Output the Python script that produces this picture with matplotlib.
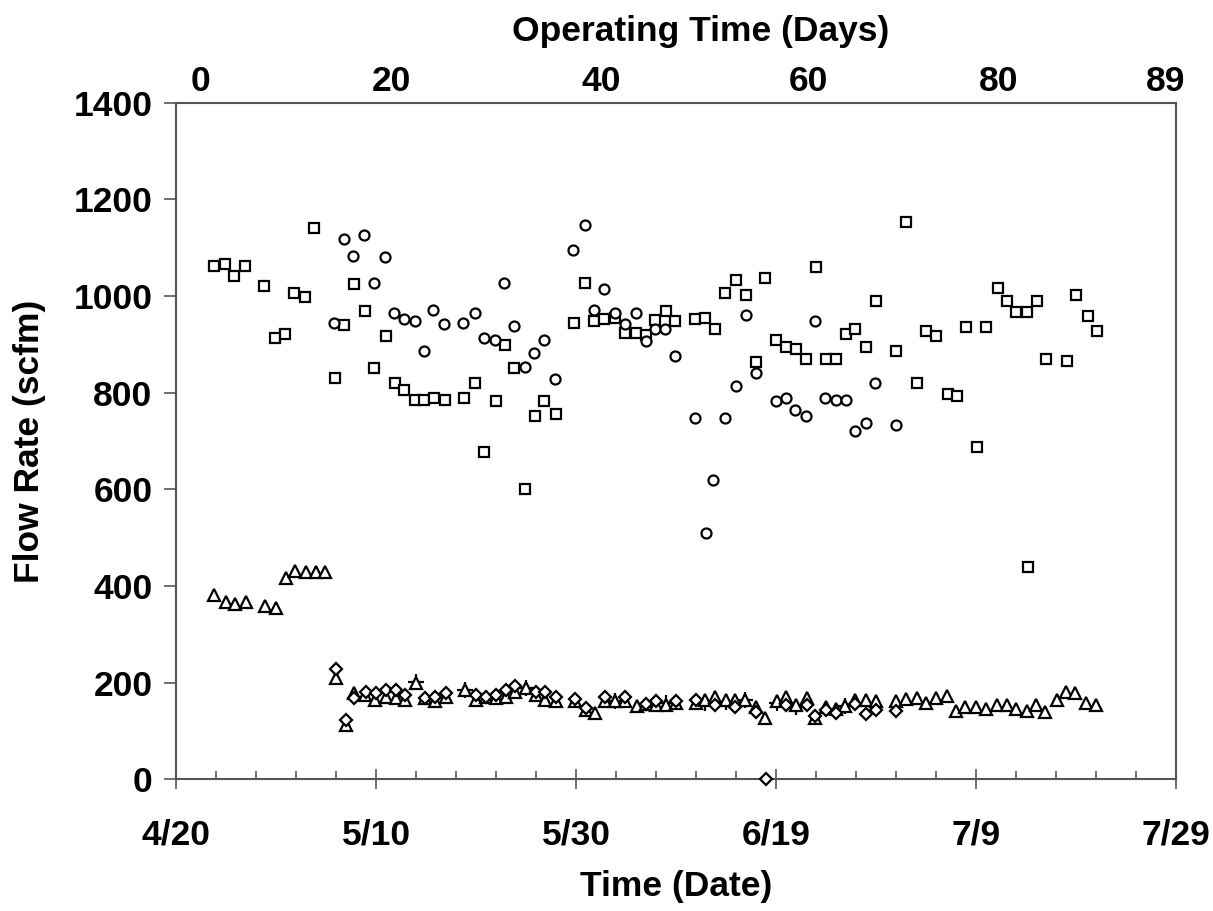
import matplotlib.pyplot as plt
from matplotlib.ticker import MultipleLocator

# x values are days after 4/20, y values are flow rate in scfm
sq_day = [3.8, 4.9, 5.8, 6.9, 8.8, 9.9, 10.9, 11.8, 12.9, 13.8,
          15.9, 16.8, 17.8, 18.9, 19.8, 21.0, 21.9, 22.8, 23.9, 24.8,
          25.8, 26.9, 28.8, 29.9, 30.8, 32.0, 32.9, 33.8, 34.9, 35.9,
          36.8, 38.0, 39.8, 40.9, 41.8, 42.8, 43.9, 44.9, 46.0, 47.0,
          47.9, 49.0, 49.9, 51.9, 52.9, 53.9, 54.9, 56.0, 57.0, 58.0,
          58.9, 60.0, 61.0, 62.0, 63.0, 64.0, 65.0, 66.0, 67.0, 67.9,
          69.0, 70.0, 72.0, 73.0, 74.1, 75.0, 76.0, 77.2, 78.1, 79.0,
          80.1, 81.0, 82.2, 83.1, 84.0, 85.1, 86.1, 87.0, 89.1, 90.0,
          91.2, 92.1, 85.2]
sq_flow = [1062, 1067, 1041, 1062, 1021, 913, 921, 1006, 998, 1141,
           830, 940, 1025, 969, 852, 917, 821, 806, 784, 784,
           789, 784, 789, 821, 678, 782, 898, 852, 601, 751,
           782, 755, 944, 1026, 948, 952, 955, 923, 923, 919,
           950, 970, 948, 952, 955, 932, 1006, 1033, 1002, 863,
           1037, 909, 894, 890, 870, 1060, 870, 870, 921, 932,
           894, 990, 886, 1153, 821, 928, 917, 797, 793, 936,
           688, 936, 1016, 990, 967, 967, 990, 870, 866, 1002,
           959, 928, 440]

ci_day = [15.8, 16.8, 17.7, 18.8, 19.8, 20.9, 21.8, 22.8, 23.9, 24.8,
          25.7, 26.8, 28.7, 29.9, 30.8, 31.9, 32.8, 33.8, 34.9, 35.8,
          36.8, 37.9, 39.7, 40.9, 41.8, 42.8, 43.9, 44.9, 46.0, 47.0,
          47.9, 48.9, 49.9, 51.9, 53.0, 53.7, 54.9, 56.0, 57.0, 58.0,
          60.0, 61.0, 61.9, 63.0, 63.9, 64.9, 66.0, 67.0, 67.9, 69.0,
          69.9, 72.0]
ci_flow = [945, 1119, 1083, 1126, 1026, 1080, 964, 953, 949, 887,
           971, 942, 945, 964, 914, 910, 1026, 937, 853, 883,
           910, 829, 1095, 1146, 971, 1015, 964, 942, 964, 906,
           932, 932, 875, 748, 510, 620, 748, 813, 960, 841,
           783, 790, 764, 752, 949, 790, 785, 785, 721, 737,
           821, 733]

tr_day = [3.8, 5.0, 5.9, 7.0, 8.9, 10.0, 11.0, 11.9, 13.0, 14.0,
          14.9, 16.0, 17.0, 17.8, 18.9, 19.9, 21.0, 22.0, 22.9, 24.0,
          24.9, 25.9, 27.0, 28.9, 30.0, 31.0, 32.0, 33.0, 33.9, 35.0,
          36.0, 36.9, 38.0, 39.9, 41.0, 41.9, 42.9, 43.9, 44.9, 46.1,
          47.0, 48.0, 49.0, 50.0, 52.0, 52.9, 53.9, 55.0, 55.9, 56.9,
          58.0, 58.9, 60.1, 61.0, 62.0, 63.1, 63.9, 65.0, 66.0, 66.9,
          67.9, 69.0, 70.0, 72.0, 73.0, 74.1, 75.0, 76.0, 77.1, 78.0,
          78.9, 80.0, 81.0, 82.1, 83.1, 84.0, 85.1, 86.0, 86.9, 88.1,
          89.0, 89.9, 91.0, 92.0]
tr_flow = [381, 366, 362, 366, 358, 354, 416, 432, 428, 428,
           428, 209, 112, 178, 174, 164, 171, 168, 164, 199,
           168, 161, 171, 185, 164, 171, 168, 170, 181, 188,
           174, 164, 161, 161, 143, 138, 161, 161, 161, 152,
           155, 154, 154, 158, 157, 164, 171, 164, 164, 164,
           150, 126, 161, 171, 154, 168, 126, 150, 145, 152,
           164, 164, 161, 161, 166, 168, 157, 169, 172, 141,
           149, 149, 145, 154, 154, 145, 141, 154, 139, 164,
           181, 178, 158, 154]

di_day = [16.0, 17.0, 17.8, 19.0, 20.0, 21.0, 22.0, 22.9, 24.9, 25.9,
          27.0, 30.0, 31.0, 32.0, 33.0, 33.9, 36.0, 36.9, 38.0, 39.9,
          41.0, 42.9, 44.9, 47.0, 48.0, 50.0, 52.0, 53.9, 55.9, 58.0,
          59.0, 61.0, 63.1, 63.9, 65.0, 66.0, 67.9, 69.0, 70.0, 72.0]
di_flow = [228, 123, 168, 180, 178, 185, 185, 174, 168, 170,
           178, 174, 171, 174, 185, 194, 181, 181, 170, 166,
           147, 171, 171, 155, 161, 161, 164, 154, 150, 140,
           0, 154, 154, 130, 143, 138, 156, 135, 143, 142]

pl_day = [24.0, 28.9, 35.0, 43.9, 49.0, 52.9, 55.0, 56.9, 60.1, 62.0, 66.9]
pl_flow = [202, 185, 188, 163, 157, 157, 159, 165, 157, 150, 152]

date_ticks = [0, 20, 40, 60, 80, 100]
date_labels = ['4/20', '5/10', '5/30', '6/19', '7/9', '7/29']
op_pos = [2.4, 21.5, 42.5, 63.2, 82.3, 99.0]
op_labels = ['0', '20', '40', '60', '80', '89']

plt.rcParams['font.family'] = ['Liberation Sans', 'DejaVu Sans']
plt.rcParams['font.weight'] = 'bold'
fs = 25.5
axc = '#555555'

W, H = 1213, 911
fig = plt.figure(figsize=(W / 100, H / 100), dpi=100)
ax = fig.add_axes([176 / W, 1 - 779.3 / H, 1000 / W, (779.3 - 102.75) / H])

mk = dict(linestyle='none', mfc='white', mec='black', mew=1.6, clip_on=False)
ax.plot(sq_day, sq_flow, marker='s', ms=7.5, zorder=3, **mk)
ax.plot(ci_day, ci_flow, marker='o', ms=7.2, zorder=3, **mk)
ax.plot(pl_day, pl_flow, marker='+', ms=12, linestyle='none', color='black', mew=1.6, zorder=4)
ax.plot(tr_day, tr_flow, marker='^', ms=9, zorder=5, **mk)
ax.plot(di_day, di_flow, marker='D', ms=6.2, zorder=6, **mk)

ax.set_xlim(0, 100)
ax.set_ylim(0, 1400)
ax.set_xticks(date_ticks)
ax.set_xticklabels(date_labels)
ax.xaxis.set_minor_locator(MultipleLocator(4))
ax.set_yticks(range(0, 1401, 200))

for s in ax.spines.values():
    s.set_color(axc)
    s.set_linewidth(1.5)

ax.tick_params(axis='x', which='major', direction='inout', length=14, width=1.2,
               color=axc, labelsize=fs, pad=21)
ax.tick_params(axis='x', which='minor', direction='in', length=6, width=1.2, color=axc)
ax.tick_params(axis='y', which='major', direction='out', length=9, width=1.2,
               color=axc, labelsize=fs, pad=8)

for p, lab in zip(op_pos, op_labels):
    ax.text(p, 1.031, lab, transform=ax.get_xaxis_transform(), ha='center',
            va='center', fontsize=fs, fontweight='bold')

fig.text(701 / W, 1 - 40.5 / H, 'Operating Time (Days)', ha='center', va='baseline',
         fontsize=fs, fontweight='bold')
fig.text(676 / W, 1 - 896 / H, 'Time (Date)', ha='center', va='baseline',
         fontsize=fs, fontweight='bold')
fig.text(30 / W, 1 - 441 / H, 'Flow Rate (scfm)', ha='center', va='center',
         rotation=90, fontsize=fs, fontweight='bold')

fig.savefig('out.png', dpi=100)
